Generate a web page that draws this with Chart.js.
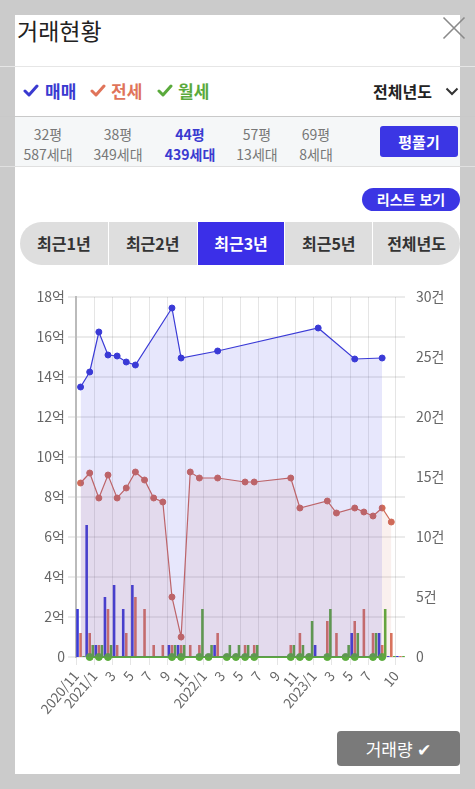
<!DOCTYPE html>
<html lang="ko">
<head>
<meta charset="utf-8">
<title>거래현황</title>
<script src="https://cdn.jsdelivr.net/npm/chart.js@4.4.0/dist/chart.umd.min.js"></script>
<style>
  * { box-sizing: border-box; }
  body { margin: 0; width: 475px; height: 789px; background: #cbcbcb; font-family: "Noto Sans CJK KR", sans-serif; position: relative; overflow: hidden; }
  .card { position: absolute; left: 15px; top: 15px; width: 445px; height: 759px; background: #fff; }
  .hr { position: absolute; left: 0; width: 475px; height: 1px; z-index: 2; }
  .abs { position: absolute; white-space: nowrap; }
  .title { left: 2px; top: 4px; font-size: 23px; line-height: 23px; color: #222; }
  .lg { top: 66px; font-size: 17px; line-height: 20px; font-weight: bold; }
  .lgc { top: 69px; }
  .years { left: 358px; top: 66px; font-size: 16px; line-height: 20px; font-weight: bold; color: #222; }
  .areas { left: 0; top: 101px; width: 445px; height: 50px; background: #f5f7f8; }
  .col { width: 80px; margin-left: -40px; text-align: center; font-size: 14px; line-height: 20px; color: #777; }
  .col.on { color: #3a3ad0; font-weight: bold; }
  .btn { left: 365px; top: 111px; width: 78px; height: 31px; background: #3b36e4; color: #fff; border-radius: 3px; font-size: 15px; font-weight: bold; line-height: 31px; text-align: center; }
  .pill { left: 347px; top: 173px; width: 98px; height: 23px; background: #3b36e4; color: #fff; border-radius: 12px; font-size: 14px; font-weight: bold; line-height: 23px; text-align: center; }
  .tabs { left: 5px; top: 207px; width: 440px; height: 43px; border-radius: 22px; overflow: hidden; display: flex; background: #fff; }
  .tab { height: 43px; background: #dedede; color: #333; font-size: 16px; font-weight: bold; line-height: 43px; text-align: center; margin-right: 1px; }
  .tab:last-child { margin-right: 0; }
  .tab.on { background: #3b2fe8; color: #fff; }
  .chartbox { left: 0; top: 270px; width: 445px; height: 450px; }
  .vol { left: 322px; top: 716px; width: 123px; height: 35px; background: #7a7a7a; color: #fff; border-radius: 4px; font-size: 17px; line-height: 35px; text-align: center; }
</style>
</head>
<body>
<div class="card">
  <div class="abs title">거래현황</div>

  <svg class="abs lgc" style="left:8px" width="16" height="14" viewBox="0 0 16 14"><path d="M2 7 L6 11 L14 2" fill="none" stroke="#3a3ad0" stroke-width="3" stroke-linecap="round" stroke-linejoin="round"/></svg>
  <div class="abs lg" style="left:30px;color:#3a3ad0">매매</div>
  <svg class="abs lgc" style="left:75px" width="16" height="14" viewBox="0 0 16 14"><path d="M2 7 L6 11 L14 2" fill="none" stroke="#e0745a" stroke-width="3" stroke-linecap="round" stroke-linejoin="round"/></svg>
  <div class="abs lg" style="left:96px;color:#e0745a">전세</div>
  <svg class="abs lgc" style="left:142px" width="16" height="14" viewBox="0 0 16 14"><path d="M2 7 L6 11 L14 2" fill="none" stroke="#5aaa3c" stroke-width="3" stroke-linecap="round" stroke-linejoin="round"/></svg>
  <div class="abs lg" style="left:163px;color:#5aaa3c">월세</div>

  <div class="abs years">전체년도</div>
  <svg class="abs" style="left:430px;top:72px" width="14" height="9" viewBox="0 0 14 9"><polyline points="1.5,1.5 7,7 12.5,1.5" fill="none" stroke="#333" stroke-width="2"/></svg>

  <div class="abs areas"></div>
  <div class="abs col" style="left:33px;top:109px">32평</div>
  <div class="abs col" style="left:33px;top:129px">587세대</div>
  <div class="abs col" style="left:103px;top:109px">38평</div>
  <div class="abs col" style="left:103px;top:129px">349세대</div>
  <div class="abs col on" style="left:175px;top:109px">44평</div>
  <div class="abs col on" style="left:175px;top:129px">439세대</div>
  <div class="abs col" style="left:242px;top:109px">57평</div>
  <div class="abs col" style="left:242px;top:129px">13세대</div>
  <div class="abs col" style="left:301px;top:109px">69평</div>
  <div class="abs col" style="left:301px;top:129px">8세대</div>
  <div class="abs btn">평풀기</div>

  <div class="abs pill">리스트 보기</div>

  <div class="abs tabs">
    <div class="tab" style="width:88px">최근1년</div>
    <div class="tab" style="width:88px">최근2년</div>
    <div class="tab on" style="width:87px">최근3년</div>
    <div class="tab" style="width:87px">최근5년</div>
    <div class="tab" style="width:87px">전체년도</div>
  </div>

  <div class="abs chartbox"><canvas id="tradeChart" width="445" height="450"></canvas></div>

  <div class="abs vol">거래량 ✔</div>
</div>
<div class="hr" style="top:66px;background:#e6e6e6"></div>
<div class="hr" style="top:116px;background:#c9c9c9"></div>
<div class="hr" style="top:166px;background:#e0e0e0"></div>
<svg style="position:absolute;left:442px;top:16px" width="24" height="24" viewBox="0 0 24 24"><path d="M1.5 1.5 L22.5 22.5 M22.5 1.5 L1.5 22.5" stroke="#8a8a8a" stroke-width="1.6"/></svg>

<script>
// months counted from 2020/11 (index 0) to 2023/10 (index 35)
const tickMonths = [0, 2, 4, 6, 8, 10, 12, 14, 16, 18, 20, 22, 24, 26, 28, 30, 32, 35];
const tickLabels = ["2020/11", "2021/1", "3", "5", "7", "9", "11", "2022/1", "3", "5", "7", "9", "11", "2023/1", "3", "5", "7", "10"];

// average prices (억)
const salePrice = [13.5, 14.25, 16.25, 15.1, 15.05, 14.75, 14.6, null, null, null, 17.45, 14.95, null, null, null, 15.3,
  null, null, null, null, null, null, null, null, null, null, 16.45, null, null, null, 14.9, null, null, 14.95, null, null];
const jeonsePrice = [8.7, 9.2, 7.95, 9.1, 7.95, 8.45, 9.25, 8.85, 7.95, 7.75, 3.0, 1.0, 9.25, 8.95, null, 8.95,
  null, null, 8.75, 8.75, null, null, null, 8.95, 7.45, null, null, 7.8, 7.2, null, 7.45, 7.25, 7.05, 7.45, 6.75, null];
const rentPrice = [null, 0, 0, 0, null, null, null, null, null, null, 0, 0, null, 0, 0, null,
  0, 0, 0, 0, null, null, null, 0, 0, 0, null, 0, null, 0, 0, null, 0, 0, null, null];

// number of trades (건)
const saleCount = [4, 11, 1, 5, 6, 4, 6, 0, 0, 0, 1, 1, 0, 0, 0, 1, 0, 0, 0, 0, 0, 0, 0, 0, 0, 0, 1, 0, 0, 0, 2, 0, 0, 2, 0, 0];
const jeonseCount = [2, 2, 1, 4, 1, 2, 5, 4, 1, 1, 1, 1, 1, 1, 0, 2, 0, 0, 1, 1, 0, 0, 0, 1, 2, 0, 0, 3, 2, 0, 3, 4, 2, 1, 2, 0];
const rentCount = [0, 1, 1, 1, 0, 0, 0, 0, 0, 0, 1, 1, 0, 4, 1, 0, 1, 1, 1, 1, 0, 0, 0, 1, 1, 3, 0, 4, 0, 1, 2, 0, 2, 4, 0, 0];

const toPoints = arr => arr.map((v, i) => ({ x: i + 0.5, y: v }));

Chart.defaults.font.family = "'Noto Sans CJK KR', sans-serif";
Chart.defaults.color = "#666";

const ctx = document.getElementById("tradeChart");
const tradeChart = new Chart(ctx, {
  type: "line",
  data: {
    datasets: [
      {
        label: "매매", data: toPoints(salePrice), yAxisID: "y",
        borderColor: "#3a3ad6", backgroundColor: "rgba(59,59,230,0.12)", fill: "origin",
        borderWidth: 1.2, tension: 0, spanGaps: true,
        pointRadius: 3, pointBorderWidth: 1, pointBackgroundColor: "#3a3ad6", pointBorderColor: "#3a3ad6",
      },
      {
        label: "전세", data: toPoints(jeonsePrice), yAxisID: "y",
        borderColor: "#cf6a58", backgroundColor: "rgba(208,106,90,0.1)", fill: "origin",
        borderWidth: 1.2, tension: 0, spanGaps: true,
        pointRadius: 3, pointBorderWidth: 1, pointBackgroundColor: "#cf6a58", pointBorderColor: "#cf6a58",
      },
      {
        label: "월세", data: toPoints(rentPrice), yAxisID: "y",
        borderColor: "#5aab3c", backgroundColor: "rgba(90,171,60,0.1)", fill: "origin",
        borderWidth: 2, tension: 0, spanGaps: true, clip: false,
        pointRadius: 3.5, pointBorderWidth: 1, pointBackgroundColor: "#5aab3c", pointBorderColor: "#5aab3c",
      },
      {
        type: "bar", label: "매매 거래량", data: toPoints(saleCount), yAxisID: "y2",
        backgroundColor: "#3b3bd6", minBarLength: 1,
        categoryPercentage: 1, barPercentage: 0.85,
      },
      {
        type: "bar", label: "전세 거래량", data: toPoints(jeonseCount), yAxisID: "y2",
        backgroundColor: "#d9745f", minBarLength: 1,
        categoryPercentage: 1, barPercentage: 0.85,
      },
      {
        type: "bar", label: "월세 거래량", data: toPoints(rentCount), yAxisID: "y2",
        backgroundColor: "#5aab3c", minBarLength: 1,
        categoryPercentage: 1, barPercentage: 0.85,
      },
    ],
  },
  options: {
    responsive: false,
    animation: false,
    layout: { padding: { top: 12, left: 0, right: 0, bottom: 0 } },
    plugins: { legend: { display: false }, tooltip: { enabled: false } },
    scales: {
      x: {
        type: "linear", min: 0, max: 36, offset: false,
        afterBuildTicks: s => { s.ticks = tickMonths.map(v => ({ value: v })); },
        afterFit: s => { s.height = 78; },
        ticks: {
          autoSkip: false, minRotation: 50, maxRotation: 50,
          font: { size: 13.5 }, color: "#666",
          callback: (v, i) => tickLabels[i],
        },
        grid: { color: "rgba(0,0,0,0.1)", offset: false },
        border: { display: false },
      },
      y: {
        position: "left", min: 0, max: 18,
        afterFit: s => { s.width = 61; },
        ticks: { stepSize: 2, font: { size: 14 }, color: "#666", callback: v => (v === 0 ? "0" : v + "억") },
        grid: { color: "rgba(0,0,0,0.08)", lineWidth: 2 },
        border: { color: "#bbb", width: 2 },
      },
      y2: {
        position: "right", min: 0, max: 30,
        afterFit: s => { s.width = 55; },
        ticks: { stepSize: 5, font: { size: 14 }, color: "#666", callback: v => (v === 0 ? "0" : v + "건") },
        grid: { display: false },
        border: { display: false },
      },
    },
  },
});
</script>
</body>
</html>
